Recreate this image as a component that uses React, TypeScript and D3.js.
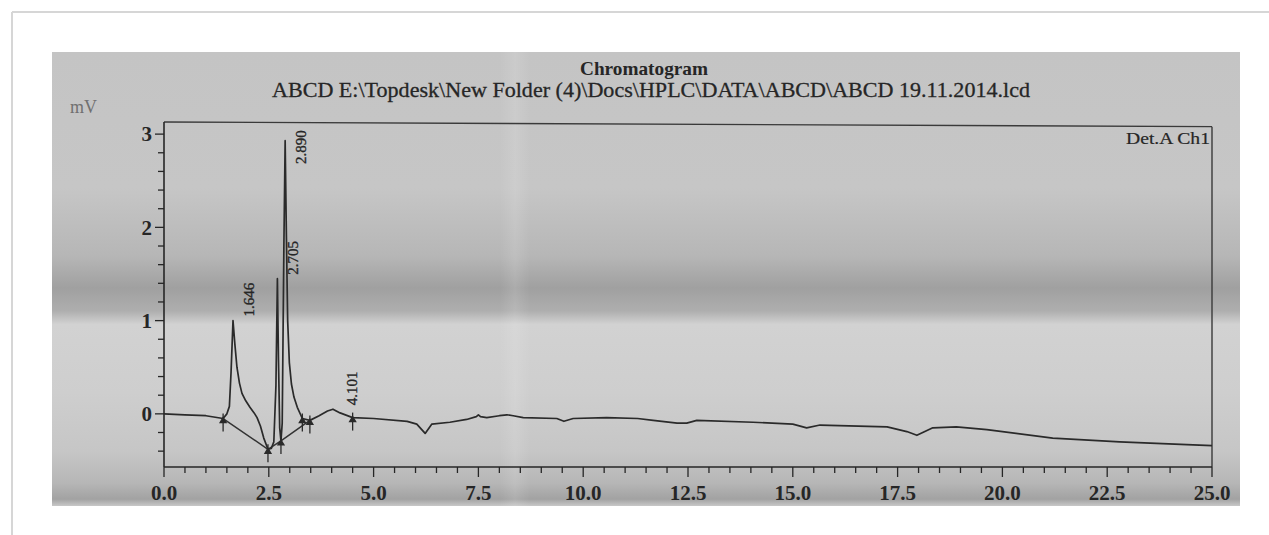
import * as d3 from "d3";

// retention time (min) and detector signal (mV)
const times = [
  0, 0.5, 1.0, 1.41, 1.5, 1.56, 1.6, 1.646, 1.69, 1.74, 1.8, 1.86, 1.95, 2.05, 2.15, 2.22, 2.3, 2.38, 2.48,
  2.56, 2.62, 2.67, 2.705, 2.73, 2.76, 2.79, 2.82, 2.86, 2.89, 2.92, 2.95, 2.99, 3.04, 3.1, 3.18, 3.3, 3.48,
  3.7, 3.9, 4.03, 4.2, 4.5, 5.0, 5.8, 6.03, 6.23, 6.39, 6.82, 7.22, 7.45, 7.5, 7.55, 7.7, 8.0, 8.18, 8.33,
  8.57, 9.37, 9.54, 9.76, 10.56, 11.3, 11.67, 12.24, 12.47, 12.71, 14.05, 15.0, 15.33, 15.65, 17.25, 17.72,
  17.96, 18.34, 18.9, 19.63, 21.2, 22.8, 24.4, 25.0,
];
const signal = [
  0.0, -0.01, -0.02, -0.05, 0.0, 0.08, 0.45, 1.0, 0.75, 0.5, 0.33, 0.22, 0.14, 0.07, 0.01, -0.04, -0.13, -0.26, -0.38,
  -0.37, -0.3, 0.3, 1.45, 0.6, -0.15, -0.29, -0.1, 1.8, 2.93, 1.9, 1.0, 0.55, 0.32, 0.18, 0.07, -0.05, -0.07,
  -0.02, 0.03, 0.05, 0.01, -0.04, -0.05, -0.08, -0.11, -0.21, -0.11, -0.09, -0.06, -0.03, -0.01, -0.03, -0.04, -0.02, -0.01, -0.02,
  -0.04, -0.05, -0.08, -0.05, -0.04, -0.05, -0.07, -0.1, -0.1, -0.07, -0.09, -0.11, -0.15, -0.12, -0.14, -0.19,
  -0.23, -0.15, -0.14, -0.17, -0.26, -0.3, -0.33, -0.34,
];

// integration baseline drawn under the first peaks
const baseTimes = [1.41, 2.48, 2.79, 3.48];
const baseValues = [-0.05, -0.38, -0.29, -0.07];

// peak start / end markers
const markerTimes = [1.41, 2.48, 2.79, 3.3, 3.48, 4.5];
const markerValues = [-0.05, -0.38, -0.29, -0.05, -0.07, -0.04];

// peak retention time labels
const peakLabels = ["1.646", "2.705", "2.890", "4.101"];
const peakTimes = [1.646, 2.705, 2.89, 4.101];
const peakTops = [1.0, 1.45, 2.93, 0.05];

const xTickLabels = ["0.0", "2.5", "5.0", "7.5", "10.0", "12.5", "15.0", "17.5", "20.0", "22.5", "25.0"];
const yTickLabels = ["0", "1", "2", "3"];

const title = "Chromatogram";
const subtitle = "ABCD E:\\Topdesk\\New Folder (4)\\Docs\\HPLC\\DATA\\ABCD\\ABCD 19.11.2014.lcd";

export default function App() {
  const width = 1269;
  const height = 535;
  const marginLeft = 164;
  const marginRight = 57;
  const plotTop = 122;
  const plotBottom = 467;

  const x = d3.scaleLinear().domain([0, 25]).range([marginLeft, width - marginRight]);
  const y = d3.scaleLinear().domain([-0.57, 3.13]).range([plotBottom, plotTop]);

  const line = d3.line<number>()
    .x((d, i) => x(times[i]))
    .y(d => y(d))
    .curve(d3.curveLinear);

  const baseLine = d3.line<number>()
    .x((d, i) => x(baseTimes[i]))
    .y(d => y(d));

  const minorX = d3.range(0, 25.001, 0.5);
  const minorY = d3.range(-0.4, 3.001, 0.2);
  const ink = "#262626";
  const font = "'Liberation Serif', 'DejaVu Serif', serif";

  return (
    <svg width={width} height={height} viewBox={`0 0 ${width} ${height}`}
      style={{ position: "absolute", left: 0, top: 0, background: "#fff" }}>
      <defs>
        <linearGradient id="scan" x1="0" y1="52" x2="0" y2="506" gradientUnits="userSpaceOnUse">
          <stop offset="0" stopColor="#c4c4c4" />
          <stop offset="0.3" stopColor="#c6c6c6" />
          <stop offset="0.45" stopColor="#b6b6b6" />
          <stop offset="0.52" stopColor="#a0a0a0" />
          <stop offset="0.57" stopColor="#aeaeae" />
          <stop offset="0.6" stopColor="#d2d2d2" />
          <stop offset="0.75" stopColor="#cecece" />
          <stop offset="0.88" stopColor="#c6c6c6" />
          <stop offset="0.95" stopColor="#b6b6b6" />
          <stop offset="0.985" stopColor="#a2a2a2" />
          <stop offset="1" stopColor="#c8c8c8" />
        </linearGradient>
        <linearGradient id="fold" x1="0" y1="0" x2="1" y2="0">
          <stop offset="0" stopColor="#ffffff" stopOpacity="0" />
          <stop offset="0.5" stopColor="#ffffff" stopOpacity="0.12" />
          <stop offset="1" stopColor="#ffffff" stopOpacity="0" />
        </linearGradient>
      </defs>

      {/* page frame */}
      <line x1={12} y1={12} x2={width} y2={12} stroke="#d6d6d6" strokeWidth={2} />
      <line x1={12} y1={12} x2={12} y2={height} stroke="#d6d6d6" strokeWidth={2} />

      {/* scanned paper */}
      <rect x={52} y={52} width={1188} height={454} fill="url(#scan)" />
      <rect x={500} y={52} width={30} height={454} fill="url(#fold)" />

      {/* titles */}
      <text x={644} y={75} textAnchor="middle" fontFamily={font} fontSize={19} fontWeight="bold" fill={ink}
        textLength={128} lengthAdjust="spacingAndGlyphs">{title}</text>
      <text x={651} y={97} textAnchor="middle" fontFamily={font} fontSize={21} fill={ink}
        stroke={ink} strokeWidth={0.3} textLength={758} lengthAdjust="spacingAndGlyphs">{subtitle}</text>
      <text x={70} y={113} fontFamily={font} fontSize={18} fill="#707070">mV</text>
      <text x={1210} y={144} textAnchor="end" fontFamily={font} fontSize={17} fill={ink}
        stroke={ink} strokeWidth={0.2} textLength={84} lengthAdjust="spacingAndGlyphs">Det.A Ch1</text>

      {/* frame */}
      <line x1={x(0)} y1={y(3.13)} x2={x(25)} y2={y(3.08)} stroke="#3a3a3a" strokeWidth={1.4} />
      <line x1={x(25)} y1={y(3.08)} x2={x(25)} y2={y(-0.57)} stroke="#3a3a3a" strokeWidth={1.4} />
      <line x1={x(0)} y1={y(-0.57)} x2={x(25)} y2={y(-0.57)} stroke={ink} strokeWidth={1.6} />
      <line x1={x(0)} y1={y(-0.57)} x2={x(0)} y2={y(3.13)} stroke={ink} strokeWidth={1.6} />

      {/* x ticks */}
      {minorX.map(t => {
        const major = Math.abs(t / 2.5 - Math.round(t / 2.5)) < 1e-6;
        return <line key={"xt" + t} x1={x(t)} x2={x(t)} y1={y(-0.57)} y2={y(-0.57) + (major ? 10 : 6)}
          stroke={ink} strokeWidth={1.3} />;
      })}
      {xTickLabels.map(l => (
        <text key={"xl" + l} x={x(+l)} y={500} textAnchor="middle" fontFamily={font} fontSize={21}
          fontWeight="bold" fill={ink}>{l}</text>
      ))}

      {/* y ticks */}
      {minorY.map(v => {
        const major = Math.abs(v - Math.round(v)) < 1e-6;
        return <line key={"yt" + v.toFixed(1)} x1={x(0) - (major ? 9 : 6)} x2={x(0)} y1={y(v)} y2={y(v)}
          stroke={ink} strokeWidth={1.3} />;
      })}
      {yTickLabels.map(l => (
        <text key={"yl" + l} x={x(0) - 12} y={y(+l)} dy="0.35em" textAnchor="end" fontFamily={font}
          fontSize={21} fontWeight="bold" fill={ink}>{l}</text>
      ))}

      {/* integration baseline */}
      <path d={baseLine(baseValues) ?? ""} fill="none" stroke="#333" strokeWidth={1.5} />

      {/* trace */}
      <path d={line(signal) ?? ""} fill="none" stroke="#2a2a2a" strokeWidth={1.7} strokeLinejoin="round" />

      {/* markers */}
      {markerTimes.map((t, i) => {
        const mx = x(t);
        const my = y(markerValues[i]);
        return (
          <g key={"m" + i} stroke="#2a2a2a" strokeWidth={1.3} fill="#2a2a2a">
            <line x1={mx} x2={mx} y1={my - 5} y2={my + 13} />
            <path d={`M${mx - 3},${my + 4}L${mx},${my - 1}L${mx + 3},${my + 4}Z`} />
          </g>
        );
      })}

      {/* peak labels */}
      {peakLabels.map((l, i) => {
        const lx = x(peakTimes[i]) + 21;
        const ly = Math.max(y(peakTops[i]) - 4, plotTop + 42);
        return (
          <text key={"pl" + l} transform={`translate(${lx},${ly}) rotate(-90)`} fontFamily={font}
            fontSize={15} fill={ink} stroke={ink} strokeWidth={0.35}>{l}</text>
        );
      })}
    </svg>
  );
}
